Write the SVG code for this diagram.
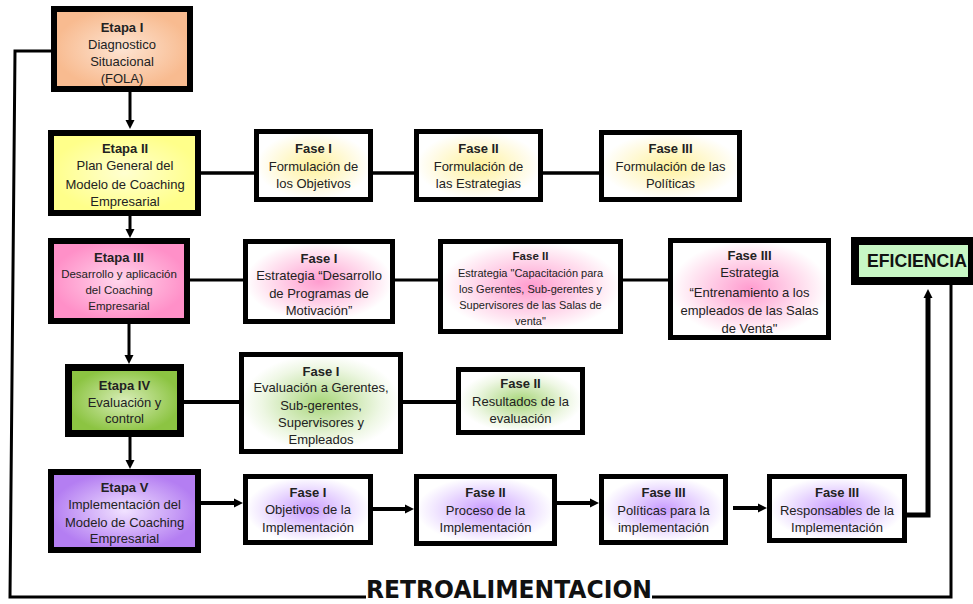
<svg xmlns="http://www.w3.org/2000/svg" width="973" height="604" viewBox="0 0 973 604">
<style>
.bx{stroke:#000;stroke-width:5}
.t{font-family:"Liberation Sans",Arial,sans-serif;font-size:13px;fill:#222;text-anchor:middle}
.b{font-weight:bold}
.s{font-size:11.5px}
.xs{font-size:11px}
.ln{fill:none;stroke:#000;stroke-width:3}
</style>
<defs>
<radialGradient id="gOr"><stop offset="0" stop-color="#fde4d2"/><stop offset="1" stop-color="#f8bb90"/></radialGradient>
<radialGradient id="gYe"><stop offset="0" stop-color="#ffffd0"/><stop offset="1" stop-color="#ffff8a"/></radialGradient>
<radialGradient id="gPk"><stop offset="0" stop-color="#ffd6ec"/><stop offset="1" stop-color="#ff90c8"/></radialGradient>
<radialGradient id="gGr"><stop offset="0" stop-color="#d8edb8"/><stop offset="1" stop-color="#8cc442"/></radialGradient>
<radialGradient id="gPu"><stop offset="0" stop-color="#f1e2ff"/><stop offset="1" stop-color="#b47ef2"/></radialGradient>
<radialGradient id="fYe"><stop offset="0" stop-color="#fff29a"/><stop offset="0.75" stop-color="#fffbe6"/><stop offset="1" stop-color="#ffffff"/></radialGradient>
<radialGradient id="fPk"><stop offset="0" stop-color="#ff9ccf"/><stop offset="0.75" stop-color="#ffe6f2"/><stop offset="1" stop-color="#ffffff"/></radialGradient>
<radialGradient id="fGr"><stop offset="0" stop-color="#a8d67a"/><stop offset="0.75" stop-color="#eef7e4"/><stop offset="1" stop-color="#ffffff"/></radialGradient>
<radialGradient id="fPu"><stop offset="0" stop-color="#c99cff"/><stop offset="0.75" stop-color="#f2e8ff"/><stop offset="1" stop-color="#ffffff"/></radialGradient>
<marker id="ah" markerUnits="userSpaceOnUse" markerWidth="10" markerHeight="10" viewBox="0 0 10 10" refX="1" refY="5" orient="auto">
<path d="M0,0.5 L9,5 L0,9.5 z" fill="#000"/>
</marker>
</defs>
<rect width="973" height="604" fill="#fff"/>

<g id="connectors">
<path class="ln" d="M51,51 H15 L10,597 H366"/>
<path class="ln" d="M652,597 H951 V285"/>
<path class="ln" d="M130,92 V121" marker-end="url(#ah)"/>
<path class="ln" d="M130,215 V230" marker-end="url(#ah)"/>
<path class="ln" d="M129,324 V356" marker-end="url(#ah)"/>
<path class="ln" d="M130,437 V461" marker-end="url(#ah)"/>
<path class="ln" style="stroke-width:3.5" d="M201,173 H254 M373,173 H414 M543,173 H599"/>
<path class="ln" d="M190,280 H243 M395,280 H438 M623,280 H668"/>
<path class="ln" style="stroke-width:4" d="M184,402 H239 M403,402 H456"/>
<path class="ln" style="stroke-width:4" d="M195,503 H235" marker-end="url(#ah)"/>
<path class="ln" style="stroke-width:4" d="M373,509 H406" marker-end="url(#ah)"/>
<path class="ln" style="stroke-width:4" d="M557,503 H591" marker-end="url(#ah)"/>
<path class="ln" style="stroke-width:4" d="M733,508 H759" marker-end="url(#ah)"/>
<path class="ln" style="stroke-width:5" d="M907,515 H928 V297" marker-end="url(#ah)"/>
</g>

<text x="366" y="598" textLength="286" lengthAdjust="spacingAndGlyphs" style="font-family:'DejaVu Sans',sans-serif;font-weight:bold;font-size:24px;fill:#111">RETROALIMENTACION</text>

<g id="etapa1">
<rect class="bx" style="stroke-width:6" x="54" y="9" width="136" height="80" fill="url(#gOr)"/>
<text class="t b" x="122" y="31.5">Etapa I</text>
<text class="t" x="122" y="48.5">Diagnostico</text>
<text class="t" x="122" y="65.5">Situacional</text>
<text class="t" x="122" y="82.5">(FOLA)</text>
</g>

<g id="etapa2">
<rect class="bx" style="stroke-width:6" x="51" y="133" width="147" height="80" fill="url(#gYe)"/>
<text class="t b" x="125" y="153">Etapa II</text>
<text class="t" x="125" y="170">Plan General del</text>
<text class="t" x="125" y="189">Modelo de  Coaching</text>
<text class="t" x="125" y="206">Empresarial</text>
</g>

<g id="f2a">
<rect class="bx" x="256.5" y="131.5" width="114" height="68" fill="url(#fYe)"/>
<text class="t b" x="313.5" y="153">Fase I</text>
<text class="t" x="313.5" y="171">Formulación de</text>
<text class="t" x="313.5" y="188">los Objetivos</text>
</g>
<g id="f2b">
<rect class="bx" x="416.5" y="131.5" width="124" height="68" fill="url(#fYe)"/>
<text class="t b" x="478.5" y="153">Fase II</text>
<text class="t" x="478.5" y="171">Formulación de</text>
<text class="t" x="478.5" y="188">las Estrategias</text>
</g>
<g id="f2c">
<rect class="bx" x="601.5" y="132.5" width="138" height="67" fill="url(#fYe)"/>
<text class="t b" x="670.5" y="153">Fase III</text>
<text class="t" x="670.5" y="171">Formulación de las</text>
<text class="t" x="670.5" y="188">Políticas</text>
</g>

<g id="etapa3">
<rect class="bx" style="stroke-width:6" x="51" y="241" width="136" height="80" fill="url(#gPk)"/>
<text class="t b" x="119" y="261.5">Etapa III</text>
<text class="t s" x="119" y="277.5">Desarrollo y aplicación</text>
<text class="t s" x="119" y="293.5">del Coaching</text>
<text class="t s" x="119" y="309.5">Empresarial</text>
</g>

<g id="f3a">
<rect class="bx" x="245.5" y="241.5" width="147" height="80" fill="url(#fPk)"/>
<text class="t b" x="319" y="262.5">Fase I</text>
<text class="t" x="319" y="280">Estrategia “Desarrollo</text>
<text class="t" x="319" y="297.5">de Programas de</text>
<text class="t" x="319" y="315">Motivación”</text>
</g>
<g id="f3b">
<rect class="bx" x="440.5" y="241.5" width="180" height="90" fill="url(#fPk)"/>
<text class="t b s" x="530.5" y="260">Fase II</text>
<text class="t xs" x="530.5" y="277">Estrategia "Capacitación para</text>
<text class="t xs" x="530.5" y="293">los Gerentes, Sub-gerentes y</text>
<text class="t xs" x="530.5" y="309">Supervisores de las Salas de</text>
<text class="t xs" x="530.5" y="325">venta"</text>
</g>
<g id="f3c">
<rect class="bx" x="670.5" y="240.5" width="158" height="97" fill="url(#fPk)"/>
<text class="t b" x="749.5" y="260">Fase III</text>
<text class="t" x="749.5" y="277">Estrategia</text>
<text class="t" x="749.5" y="297">“Entrenamiento a los</text>
<text class="t" x="749.5" y="315">empleados de las Salas</text>
<text class="t" x="749.5" y="333">de Venta"</text>
</g>

<g id="eficiencia">
<rect class="bx" style="stroke-width:8" x="855" y="241" width="117" height="40" fill="#c8f7c5"/>
<text x="917" y="267" textLength="100" lengthAdjust="spacingAndGlyphs" style="font-family:'Liberation Sans',Arial,sans-serif;font-weight:bold;font-size:19px;fill:#111;text-anchor:middle">EFICIENCIA</text>
</g>

<g id="etapa4">
<rect class="bx" style="stroke-width:7" x="68.5" y="367.5" width="112" height="66" fill="url(#gGr)"/>
<text class="t b" x="124.5" y="390">Etapa IV</text>
<text class="t" x="124.5" y="407">Evaluación y</text>
<text class="t" x="124.5" y="423">control</text>
</g>

<g id="f4a">
<rect class="bx" x="241.5" y="354.5" width="159" height="97" fill="url(#fGr)"/>
<text class="t b" x="321" y="376">Fase I</text>
<text class="t" x="321" y="392">Evaluación a Gerentes,</text>
<text class="t" x="321" y="410">Sub-gerentes,</text>
<text class="t" x="321" y="427">Supervisores y</text>
<text class="t" x="321" y="444">Empleados</text>
</g>
<g id="f4b">
<rect class="bx" x="458.5" y="369.5" width="124" height="63" fill="url(#fGr)"/>
<text class="t b" x="520.5" y="388">Fase II</text>
<text class="t" x="520.5" y="406">Resultados de la</text>
<text class="t" x="520.5" y="423">evaluación</text>
</g>

<g id="etapa5">
<rect class="bx" style="stroke-width:6" x="51" y="472" width="147" height="78" fill="url(#gPu)"/>
<text class="t b" x="124.5" y="492">Etapa V</text>
<text class="t" x="124.5" y="509">Implementación del</text>
<text class="t" x="124.5" y="527">Modelo de Coaching</text>
<text class="t" x="124.5" y="543">Empresarial</text>
</g>

<g id="f5a">
<rect class="bx" x="245.5" y="476.5" width="125" height="66" fill="url(#fPu)"/>
<text class="t b" x="308" y="497">Fase I</text>
<text class="t" x="308" y="514">Objetivos de la</text>
<text class="t" x="308" y="532">Implementación</text>
</g>
<g id="f5b">
<rect class="bx" x="416.5" y="476.5" width="138" height="67" fill="url(#fPu)"/>
<text class="t b" x="485.5" y="497">Fase II</text>
<text class="t" x="485.5" y="515">Proceso de la</text>
<text class="t" x="485.5" y="532">Implementación</text>
</g>
<g id="f5c">
<rect class="bx" x="601.5" y="476.5" width="124" height="66" fill="url(#fPu)"/>
<text class="t b" x="663.5" y="497">Fase III</text>
<text class="t" x="663.5" y="515">Políticas para la</text>
<text class="t" x="663.5" y="532">implementación</text>
</g>
<g id="f5d">
<rect class="bx" x="769.5" y="476.5" width="135" height="64" fill="url(#fPu)"/>
<text class="t b" x="837" y="497">Fase III</text>
<text class="t" x="837" y="515">Responsables de la</text>
<text class="t" x="837" y="532">Implementación</text>
</g>
</svg>
